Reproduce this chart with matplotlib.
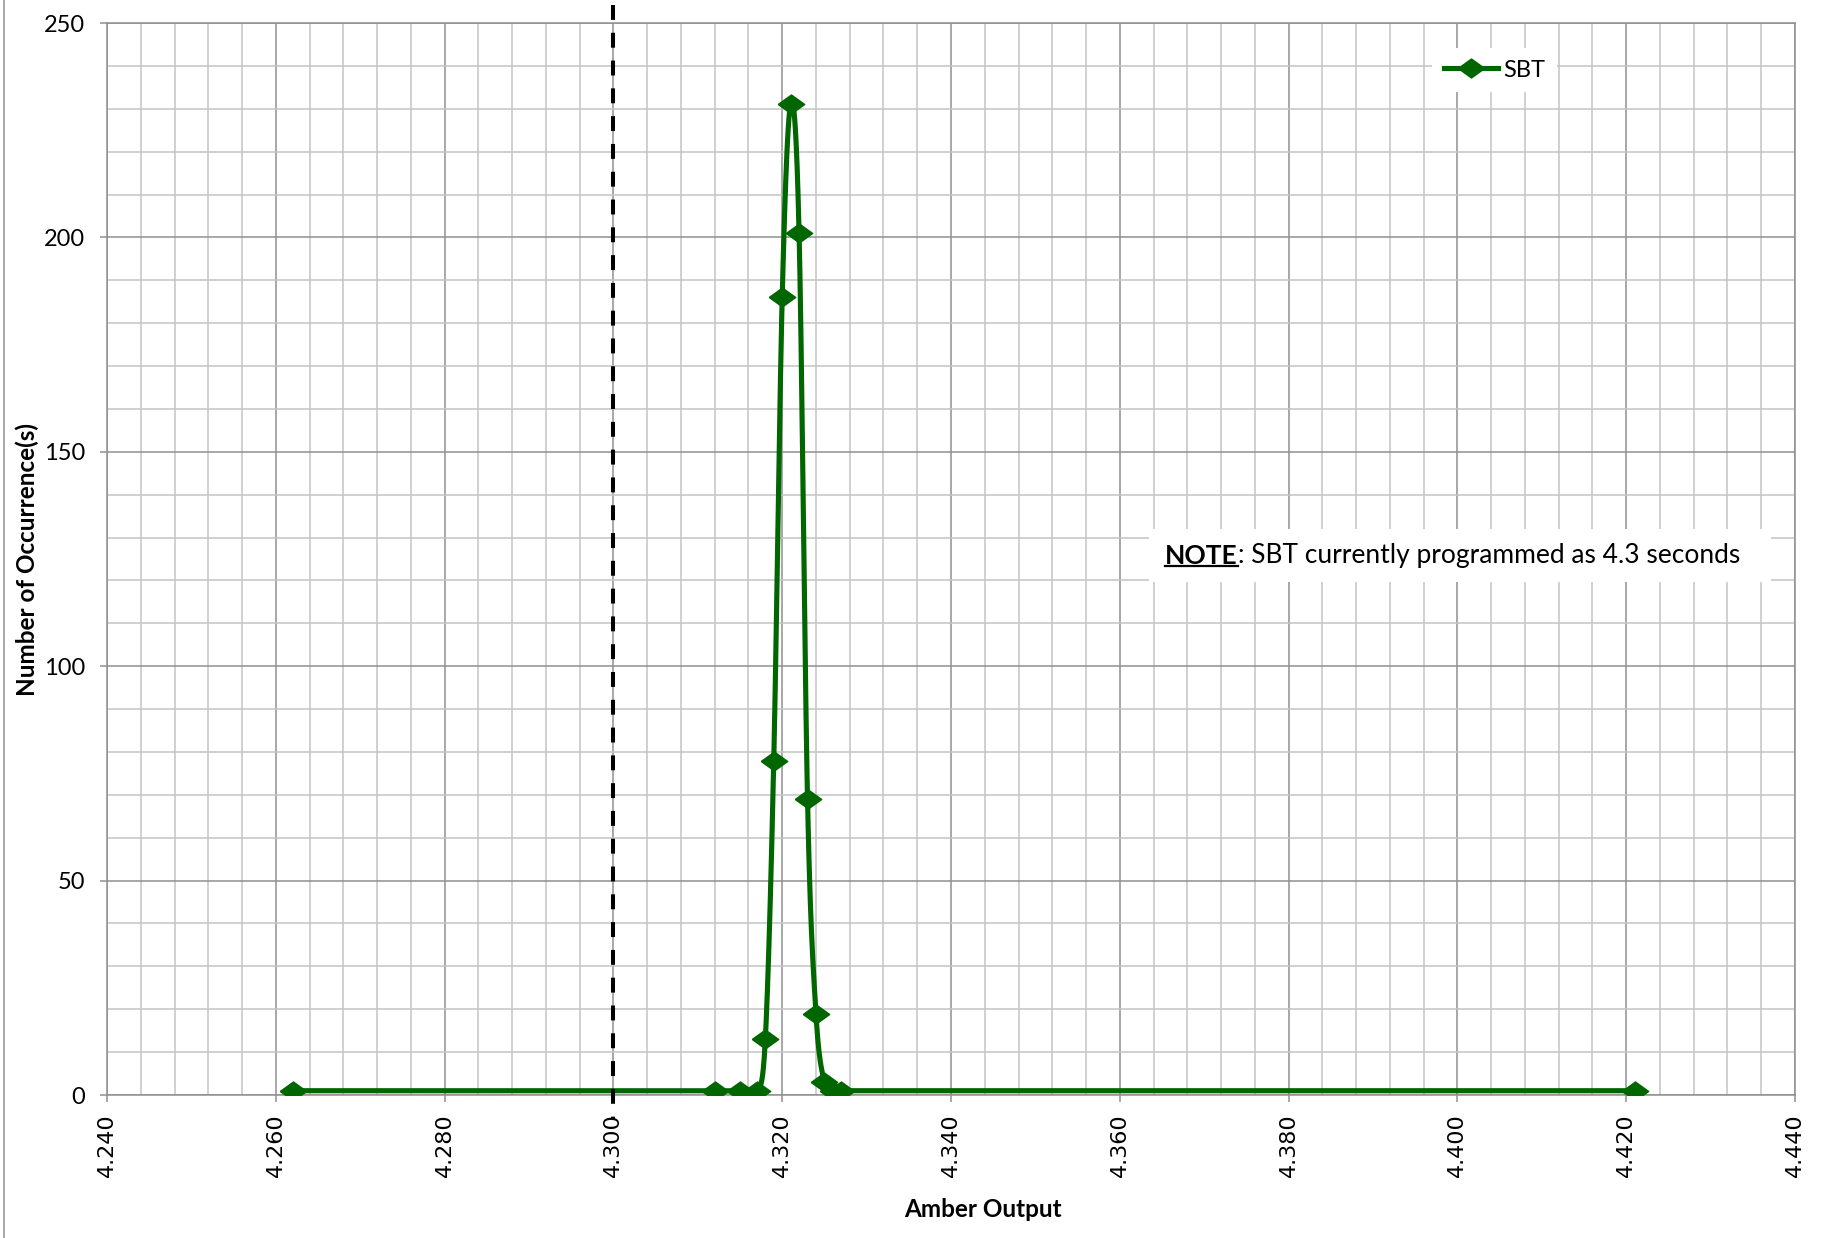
"""
SBT amber output histogram, smoothed line with diamond markers.
"""

import matplotlib
matplotlib.use("Agg")
import matplotlib.pyplot as plt
import numpy as np
from matplotlib.lines import Line2D
from matplotlib.patches import Rectangle
from matplotlib.ticker import MultipleLocator, FormatStrFormatter

# data
amber_output = [4.262, 4.312, 4.315, 4.317, 4.318, 4.319, 4.320, 4.321,
                4.322, 4.323, 4.324, 4.325, 4.326, 4.327, 4.421]
occurrences = [1, 1, 1, 1, 13, 78, 186, 231, 201, 69, 19, 3, 1, 1, 1]
series_name = "SBT"
sbt_setting = 4.300
note_bold = "NOTE"
note_rest = ": SBT currently programmed as 4.3 seconds"

GREEN = "#006600"
CAL = ["Lato", "DejaVu Sans"]


def excel_smooth(x, y, n=40):
    """Bezier through the points (like Excel's smoothed line), with the
    control points kept inside each segment so x never runs backwards."""
    x = np.asarray(x, float)
    y = np.asarray(y, float)
    px = np.concatenate([[x[0]], x, [x[-1]]])
    py = np.concatenate([[y[0]], y, [y[-1]]])
    t = np.linspace(0, 1, n)
    xs, ys = [], []
    for i in range(1, len(px) - 2):
        p0 = np.array([px[i - 1], py[i - 1]])
        p1 = np.array([px[i], py[i]])
        p2 = np.array([px[i + 1], py[i + 1]])
        p3 = np.array([px[i + 2], py[i + 2]])
        h = p2[0] - p1[0]
        d1 = (p2 - p0) / 6
        d2 = (p3 - p1) / 6
        if d1[0] > h / 3:
            d1 *= (h / 3) / d1[0]
        if d2[0] > h / 3:
            d2 *= (h / 3) / d2[0]
        c1 = p1 + d1
        c2 = p2 - d2
        b = ((1 - t) ** 3)[:, None] * p1 + (3 * (1 - t) ** 2 * t)[:, None] * c1 \
            + (3 * (1 - t) * t ** 2)[:, None] * c2 + (t ** 3)[:, None] * p2
        xs.append(b[:, 0])
        ys.append(b[:, 1])
    return np.concatenate(xs), np.concatenate(ys)


fig = plt.figure(figsize=(18.24, 12.38), dpi=100)
ax = fig.add_axes([107 / 1824, 143 / 1238, 1688 / 1824, 1072 / 1238])

ax.set_xlim(4.24, 4.44)
ax.set_ylim(0, 250)
ax.xaxis.set_major_locator(MultipleLocator(0.02))
ax.xaxis.set_minor_locator(MultipleLocator(0.004))
ax.yaxis.set_major_locator(MultipleLocator(50))
ax.yaxis.set_minor_locator(MultipleLocator(10))
ax.xaxis.set_major_formatter(FormatStrFormatter("%.3f"))

ax.grid(which="major", color="#8f8f8f", lw=1.1, zorder=0)
ax.grid(which="minor", color="#c4c4c4", lw=1.1, zorder=0)
ax.set_axisbelow(True)
for sp in ax.spines.values():
    sp.set_color("#8f8f8f")
    sp.set_linewidth(1.1)

ax.tick_params(which="major", direction="out", length=5, width=1.1,
               color="#8f8f8f")
ax.tick_params(which="minor", length=0)
ax.tick_params(axis="x", labelrotation=90, pad=8, labelsize=16)
ax.tick_params(axis="y", pad=11)
for lab in ax.get_yticklabels():
    lab.set_family(CAL)
    lab.set_fontsize(17)

ax.set_xlabel("Amber Output", family=CAL, fontsize=17.5, fontweight="bold",
              va="center")
ax.set_ylabel("Number of Occurrence(s)", family=CAL, fontsize=17.5,
              fontweight="bold", va="center")
ax.xaxis.set_label_coords(0.519, -0.107)
ax.yaxis.set_label_coords(-0.0474, 0.5)

diamond = [(-1, 0), (0, 0.72), (1, 0), (0, -0.72), (-1, 0)]

sx, sy = excel_smooth(amber_output, occurrences)
ax.plot(sx, sy, color=GREEN, lw=3.7, zorder=4, solid_capstyle="round")
ax.plot(amber_output, occurrences, ls="none", marker=diamond, ms=19,
        color=GREEN, zorder=5)

# threshold line, runs past the plot area and over its tick label
ax.plot([sbt_setting, sbt_setting], [254.2, -5.5], color="black", lw=2.9,
        ls=(0, (3.7, 3.2)), clip_on=False, zorder=6)

# legend
handle = Line2D([], [], color=GREEN, lw=3.7, marker=diamond, ms=19)
leg = ax.legend([handle], [series_name], loc="center",
                bbox_to_anchor=(0.822, 0.956), frameon=True,
                prop={"family": CAL, "size": 17}, handlelength=2.3,
                handletextpad=0.2, borderpad=0.5)
leg.get_frame().set_edgecolor("none")
leg.get_frame().set_facecolor("white")
leg.get_frame().set_alpha(1)

# note box
ax.add_patch(Rectangle(((1149 - 107) / 1688, (1095 - 582) / 1072),
                       622 / 1688, 53 / 1072, transform=ax.transAxes,
                       facecolor="white", edgecolor="none", zorder=2))
tx = (1165 - 107) / 1688
ty = (1095 - 556) / 1072
t1 = ax.text(tx, ty, note_bold, transform=ax.transAxes, family=CAL,
             fontsize=19, fontweight="bold", va="center", zorder=3)
fig.canvas.draw()
r = fig.canvas.get_renderer()
bb = t1.get_window_extent(r).transformed(ax.transAxes.inverted())
ax.text(bb.x1, ty, note_rest, transform=ax.transAxes, family=CAL,
        fontsize=19, va="center", zorder=3)
uy = bb.y0 + 0.002
ax.plot([bb.x0, bb.x1], [uy, uy], transform=ax.transAxes, color="black",
        lw=1.6, zorder=3, clip_on=False)

# chart outer border on the left
fig.add_artist(Line2D([4.5 / 1824, 4.5 / 1824], [0, 1],
                      transform=fig.transFigure, color="#8f8f8f", lw=1.1))

fig.savefig("out.png", dpi=100, facecolor="white")
